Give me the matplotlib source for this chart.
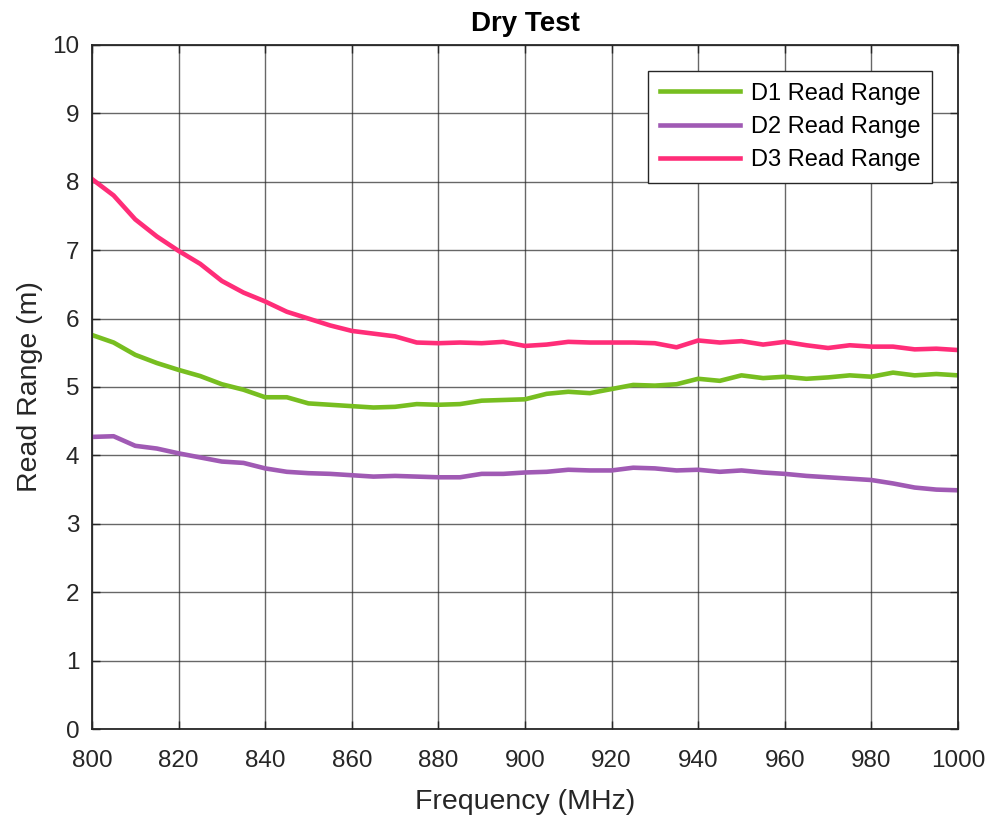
import numpy as np
import matplotlib
matplotlib.use("Agg")
import matplotlib.pyplot as plt

plt.rcParams['font.family'] = ['Liberation Sans', 'DejaVu Sans']

# Frequency sweep, 5 MHz steps
freq = np.arange(800, 1001, 5)

d1 = [5.76, 5.65, 5.47, 5.35, 5.25, 5.16, 5.04, 4.96, 4.85, 4.85,
      4.76, 4.74, 4.72, 4.70, 4.71, 4.75, 4.74, 4.75, 4.80, 4.81,
      4.82, 4.90, 4.93, 4.91, 4.97, 5.03, 5.02, 5.04, 5.12, 5.09,
      5.17, 5.13, 5.15, 5.12, 5.14, 5.17, 5.15, 5.21, 5.17, 5.19, 5.17]
d2 = [4.27, 4.28, 4.14, 4.10, 4.03, 3.97, 3.91, 3.89, 3.81, 3.76,
      3.74, 3.73, 3.71, 3.69, 3.70, 3.69, 3.68, 3.68, 3.73, 3.73,
      3.75, 3.76, 3.79, 3.78, 3.78, 3.82, 3.81, 3.78, 3.79, 3.76,
      3.78, 3.75, 3.73, 3.70, 3.68, 3.66, 3.64, 3.59, 3.53, 3.50, 3.49]
d3 = [8.04, 7.80, 7.45, 7.20, 6.99, 6.80, 6.55, 6.38, 6.25, 6.10,
      6.00, 5.90, 5.82, 5.78, 5.74, 5.65, 5.64, 5.65, 5.64, 5.66,
      5.60, 5.62, 5.66, 5.65, 5.65, 5.65, 5.64, 5.58, 5.68, 5.65,
      5.67, 5.62, 5.66, 5.61, 5.57, 5.61, 5.59, 5.59, 5.55, 5.56, 5.54]

series = [
    ('D1 Read Range', d1, '#77be20'),
    ('D2 Read Range', d2, '#a05ab4'),
    ('D3 Read Range', d3, '#ff2d78'),
]

fig = plt.figure(figsize=(9.92, 8.16), dpi=100)
ax = fig.add_axes([0.0927, 0.1066, 0.873, 0.8383])

for label, vals, col in series:
    ax.plot(freq, vals, color=col, linewidth=3.3, label=label)

ax.set_xlim(800, 1000)
ax.set_ylim(0, 10)
ax.set_xticks(np.arange(800, 1001, 20))
ax.set_yticks(np.arange(0, 11, 1))
ax.grid(True, color='#262626', linewidth=1.0, alpha=0.7)
ax.tick_params(direction='in', labelsize=17.5, length=6, width=1, top=True, right=True,
               labeltop=False, labelright=False, colors='#262626')
ax.tick_params(axis='x', pad=15)
ax.tick_params(axis='y', pad=9)
for sp in ax.spines.values():
    sp.set_linewidth(1.3)
    sp.set_color('#262626')

ax.set_xlabel('Frequency (MHz)', fontsize=20.5, color='#262626', labelpad=12)
ax.set_ylabel('Read Range (m)', fontsize=20.5, color='#262626', labelpad=7)
ax.set_title('Dry Test', fontsize=20, fontweight='bold', pad=10)

leg = ax.legend(loc='upper right', bbox_to_anchor=(0.970, 0.962), borderaxespad=0,
                fontsize=17, fancybox=False, framealpha=1, edgecolor='#262626',
                handlelength=3.4, handletextpad=0.45, borderpad=0.5,
                labelspacing=0.48)
leg.get_frame().set_linewidth(1.0)

fig.savefig('out.png', dpi=100)
